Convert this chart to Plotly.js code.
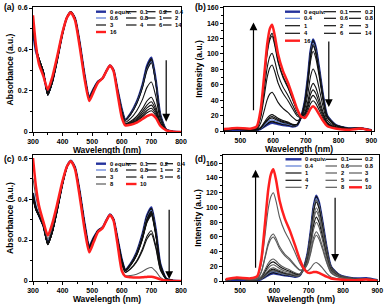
<!DOCTYPE html>
<html><head><meta charset="utf-8">
<script src="https://cdn.plot.ly/plotly-3.0.1.min.js"></script>
<style>html,body{margin:0;padding:0;background:#fff}#c{width:385px;height:304px}</style>
</head><body><div id="c"></div><script>
// ---------- data ----------
const wlAbs = [300,310,320,335,350,365,380,400,415,428,442,458,475,490,505,520,535,548,560,572,585,600,612,630,650,670,685,700,715,730,750,775,800];

const absA_0  = [0.48,0.39,0.345,0.285,0.185,0.245,0.34,0.48,0.555,0.58,0.55,0.43,0.27,0.17,0.21,0.245,0.26,0.295,0.322,0.30,0.21,0.11,0.06,0.09,0.145,0.23,0.32,0.36,0.25,0.085,0.012,0.002,0];
const absA_01 = [0.49,0.40,0.35,0.29,0.18,0.24,0.336,0.478,0.556,0.581,0.551,0.431,0.27,0.168,0.21,0.245,0.26,0.295,0.322,0.30,0.21,0.109,0.059,0.089,0.143,0.227,0.315,0.355,0.246,0.084,0.012,0.002,0];
const absA_02 = [0.49,0.40,0.352,0.29,0.179,0.24,0.335,0.477,0.556,0.581,0.551,0.431,0.27,0.167,0.21,0.245,0.26,0.295,0.322,0.30,0.21,0.108,0.059,0.088,0.141,0.223,0.310,0.349,0.243,0.083,0.012,0.002,0];
const absA_04 = [0.5,0.405,0.353,0.291,0.178,0.239,0.335,0.477,0.556,0.581,0.551,0.43,0.269,0.166,0.209,0.245,0.26,0.295,0.322,0.30,0.209,0.108,0.058,0.087,0.14,0.221,0.307,0.345,0.24,0.082,0.012,0.002,0];
const absA_06 = [0.5,0.405,0.354,0.292,0.178,0.239,0.334,0.476,0.556,0.581,0.55,0.43,0.269,0.166,0.209,0.245,0.26,0.295,0.322,0.30,0.209,0.107,0.058,0.086,0.138,0.218,0.302,0.34,0.237,0.081,0.012,0.002,0];
const absA_08 = [0.5,0.406,0.355,0.293,0.178,0.239,0.334,0.476,0.556,0.581,0.55,0.429,0.268,0.165,0.208,0.245,0.26,0.295,0.322,0.30,0.208,0.106,0.057,0.085,0.136,0.215,0.298,0.335,0.234,0.08,0.012,0.002,0];
const absA_1  = [0.51,0.408,0.356,0.293,0.179,0.24,0.335,0.477,0.556,0.58,0.549,0.428,0.267,0.164,0.207,0.244,0.26,0.295,0.322,0.299,0.206,0.093,0.048,0.066,0.102,0.158,0.216,0.242,0.172,0.061,0.01,0.0015,0];
const absA_2  = [0.51,0.41,0.356,0.292,0.18,0.241,0.336,0.477,0.556,0.58,0.548,0.426,0.265,0.162,0.206,0.244,0.26,0.295,0.322,0.299,0.204,0.082,0.04,0.052,0.075,0.113,0.15,0.168,0.123,0.047,0.009,0.001,0];
const absA_3  = [0.515,0.41,0.355,0.291,0.181,0.242,0.337,0.478,0.556,0.58,0.547,0.425,0.264,0.161,0.205,0.243,0.26,0.295,0.322,0.298,0.203,0.079,0.038,0.047,0.067,0.1,0.13,0.146,0.108,0.042,0.009,0.001,0];
const absA_4  = [0.515,0.41,0.354,0.29,0.182,0.243,0.338,0.478,0.556,0.58,0.547,0.424,0.263,0.16,0.204,0.243,0.26,0.295,0.322,0.298,0.202,0.077,0.037,0.044,0.061,0.09,0.117,0.13,0.098,0.039,0.009,0.001,0];
const absA_6  = [0.52,0.41,0.352,0.289,0.184,0.245,0.34,0.479,0.556,0.58,0.546,0.422,0.262,0.159,0.203,0.243,0.26,0.295,0.322,0.297,0.2,0.074,0.035,0.041,0.056,0.081,0.104,0.115,0.088,0.036,0.008,0.001,0];
const absA_14 = [0.53,0.412,0.345,0.283,0.19,0.252,0.346,0.481,0.556,0.579,0.544,0.418,0.258,0.155,0.2,0.242,0.26,0.295,0.322,0.297,0.197,0.073,0.034,0.039,0.052,0.074,0.093,0.103,0.08,0.034,0.008,0.001,0];
const absA_16 = [0.565,0.42,0.33,0.27,0.205,0.265,0.355,0.485,0.555,0.578,0.54,0.41,0.25,0.15,0.195,0.24,0.26,0.295,0.322,0.295,0.19,0.07,0.032,0.035,0.045,0.063,0.077,0.085,0.068,0.03,0.008,0.001,0];
const labelsA = ['0 equiv.','0.1','0.2','0.4','0.6','0.8','1','2','3','4','6','14','16'];

const absC_0  = [0.43,0.36,0.32,0.27,0.19,0.245,0.34,0.48,0.56,0.588,0.555,0.435,0.275,0.17,0.212,0.247,0.262,0.297,0.325,0.302,0.212,0.105,0.055,0.085,0.14,0.23,0.32,0.36,0.25,0.085,0.012,0.002,0];
const absC_01 = [0.42,0.355,0.32,0.27,0.182,0.24,0.336,0.478,0.558,0.586,0.554,0.434,0.273,0.167,0.21,0.246,0.261,0.296,0.324,0.301,0.211,0.104,0.055,0.084,0.138,0.227,0.316,0.355,0.246,0.084,0.012,0.002,0];
const absC_02 = [0.42,0.355,0.321,0.27,0.181,0.24,0.335,0.478,0.558,0.586,0.554,0.434,0.273,0.167,0.21,0.246,0.261,0.296,0.324,0.301,0.211,0.104,0.054,0.084,0.137,0.226,0.314,0.353,0.245,0.083,0.012,0.002,0];
const absC_04 = [0.415,0.352,0.32,0.27,0.18,0.239,0.335,0.477,0.558,0.586,0.553,0.433,0.272,0.166,0.21,0.246,0.261,0.296,0.324,0.301,0.21,0.103,0.054,0.083,0.136,0.224,0.311,0.35,0.243,0.083,0.012,0.002,0];
const absC_06 = [0.415,0.352,0.32,0.27,0.18,0.239,0.334,0.477,0.558,0.585,0.553,0.433,0.272,0.166,0.209,0.246,0.261,0.296,0.324,0.301,0.21,0.103,0.054,0.082,0.135,0.221,0.307,0.345,0.24,0.082,0.012,0.002,0];
const absC_08 = [0.41,0.35,0.319,0.269,0.179,0.238,0.334,0.476,0.557,0.585,0.553,0.432,0.271,0.165,0.209,0.246,0.261,0.296,0.324,0.3,0.209,0.102,0.053,0.081,0.133,0.217,0.302,0.34,0.236,0.08,0.011,0.002,0];
const absC_1  = [0.41,0.35,0.319,0.269,0.178,0.238,0.333,0.476,0.557,0.585,0.552,0.432,0.271,0.165,0.209,0.245,0.261,0.296,0.324,0.3,0.209,0.101,0.053,0.08,0.131,0.214,0.298,0.335,0.233,0.079,0.011,0.002,0];
const absC_2  = [0.405,0.348,0.318,0.268,0.178,0.237,0.333,0.475,0.557,0.585,0.552,0.431,0.27,0.164,0.208,0.245,0.26,0.296,0.324,0.3,0.208,0.1,0.052,0.079,0.129,0.211,0.294,0.33,0.229,0.078,0.011,0.002,0];
const absC_3  = [0.405,0.348,0.318,0.268,0.177,0.237,0.332,0.475,0.557,0.584,0.552,0.431,0.27,0.164,0.208,0.245,0.26,0.296,0.324,0.3,0.208,0.099,0.052,0.078,0.127,0.208,0.289,0.325,0.226,0.077,0.011,0.002,0];
const absC_4  = [0.4,0.345,0.317,0.267,0.177,0.236,0.332,0.474,0.557,0.584,0.551,0.43,0.269,0.163,0.207,0.245,0.26,0.296,0.324,0.299,0.207,0.099,0.051,0.077,0.125,0.205,0.285,0.32,0.222,0.076,0.011,0.002,0];
const absC_5  = [0.42,0.355,0.322,0.271,0.185,0.243,0.338,0.478,0.557,0.584,0.55,0.428,0.266,0.16,0.205,0.244,0.26,0.296,0.324,0.299,0.204,0.086,0.044,0.062,0.098,0.158,0.218,0.245,0.171,0.059,0.009,0.001,0];
const absC_6  = [0.43,0.36,0.325,0.273,0.188,0.246,0.34,0.48,0.557,0.584,0.55,0.427,0.265,0.158,0.204,0.244,0.26,0.296,0.324,0.299,0.203,0.084,0.042,0.059,0.093,0.149,0.205,0.23,0.16,0.055,0.008,0.001,0];
const absC_8  = [0.5,0.41,0.345,0.28,0.205,0.262,0.352,0.486,0.558,0.585,0.547,0.418,0.253,0.145,0.193,0.241,0.259,0.295,0.323,0.296,0.19,0.057,0.026,0.027,0.033,0.046,0.06,0.066,0.047,0.018,0.003,0,0];
const absC_10 = [0.6,0.46,0.37,0.29,0.222,0.28,0.365,0.49,0.56,0.585,0.545,0.41,0.245,0.14,0.19,0.24,0.258,0.295,0.322,0.295,0.185,0.05,0.022,0.018,0.017,0.018,0.02,0.021,0.016,0.008,0.002,0,0];
const labelsC = ['0 equiv.','0.1','0.2','0.4','0.6','0.8','1','2','3','4','5','6','8','10'];

const wlEmB = [450,490,530,550,562,572,582,590,597,605,615,630,645,660,673,685,697,707,714,722,730,740,752,765,790,830,868,900];
const emB_0  = [0.5,1,0.5,1,2.6,5.3,8,9.9,10.5,9.8,9,7.7,7,5.7,7.3,18,39.3,73.8,103.6,119,109.5,83.3,47.6,20.2,8.3,3.6,3.4,1.2];
const emB_01 = [1,2.2,1,1.3,2.9,6,9.1,11.3,12,11.1,10.1,8.5,7.6,6.1,7.6,18,39.1,73.3,102.8,118,108.6,82.7,47.3,20.1,8.3,3.6,3.9,1.2];
const emB_02 = [1.1,2.2,1,1.3,3,6.4,9.8,12.1,12.8,11.9,10.6,9,8,6.3,7.7,17.8,38.5,72.1,101,116,106.8,81.3,46.5,19.8,8.2,3.5,3.8,1.2];
const emB_04 = [1.1,2.2,1,1.3,3.4,7.3,11.4,13.8,14.6,13.5,12,9.9,8.8,6.9,8,17.7,37.9,70.9,99.4,114.2,105,79.9,45.7,19.5,8,3.4,3.8,1.1];
const emB_06 = [1.2,2.2,1,1.4,3.8,8.5,13.3,16.1,17,15.6,13.6,11.2,9.8,7.6,8.3,17.7,37.4,69.8,97.8,112.3,103.3,78.6,45,19.2,7.9,3.4,3.7,1.1];
const emB_08 = [1.2,2.3,1.1,1.5,4.2,9.4,14.8,17.9,18.8,17.3,14.9,12.2,10.6,8.2,8.6,17.6,36.9,68.7,96.1,110.4,101.5,77.3,44.2,18.9,7.8,3.3,3.7,1.1];
const emB_1  = [1.3,2.3,1.1,1.5,4.7,10.6,16.9,20.2,21.2,19.4,16.6,13.5,11.6,8.8,8.8,16.9,34.8,64.5,90.1,103.5,95.2,72.4,41.5,17.7,7.3,3.1,3.6,1];
const emB_2  = [1.8,2.7,1.5,2.6,10.4,25.2,40.8,48.1,50.3,45.5,37.2,29.3,24.1,17.7,13.5,16.7,28.7,51,70.5,80.5,74,56.4,32.5,14.1,5.9,2.6,3.3,0.8];
const emB_3  = [2.1,3.2,2.1,3.8,17.4,42.9,69.9,82.2,85.7,77.3,62.4,48.9,39.7,28.6,19.7,17.8,24.4,40.2,54.5,61.8,56.7,43.3,25.2,11.2,4.9,2.2,3.1,0.6];
const emB_4  = [2.2,3.4,2.3,4.4,20.4,50.5,82.5,96.9,101,91,73.3,57.3,46.4,33.3,22.4,18.2,22.3,35.4,47.4,53.4,48.9,37.4,21.9,10,4.5,2,3,0.5];
const emB_6  = [2.4,3.8,2.7,5.2,24.8,61.7,100.9,118.4,123.4,111.2,89.3,69.7,56.3,40.3,26.5,19.5,21.1,31.4,41.3,46.2,42.2,32.4,19.2,8.9,4.1,1.9,2.9,0.4];
const emB_14 = [2.4,3.9,2.8,5.4,25.5,63.4,103.8,121.6,126.8,114.2,91.8,71.5,57.7,41.3,26.9,18.9,19,27.3,35.5,39.3,35.9,27.6,16.5,7.9,3.7,1.7,2.8,0.35];
const emB_16 = [2.5,4,3,6,28,69,113,133,138,124,100,78,63,45,29,19,17,23,29,32,29,22,13.5,6.6,3.3,1.5,3.2,0.3];
const labelsB = ['0 equiv.','0.1','0.2','0.4','0.6','0.8','1','2','3','4','6','14','16'];

const wlEmD = [458,490,530,550,562,572,582,590,597,605,615,630,645,660,673,685,697,707,714,722,730,740,752,765,790,830,868,900];
const emD_0  = [0.8,1.5,0.6,0.8,2.5,5.1,7.8,9.7,10.3,9.6,8.8,7.6,6.9,5.5,7.2,17.5,38.4,71.9,100.9,116,106.7,81.2,46.4,19.7,8.1,3.5,4,1.2];
const emD_01 = [1.6,2.6,1.4,1.7,2.7,5.6,8.5,10.5,11.2,10.4,9.5,8,7.2,5.8,7.3,17.5,38.1,71.4,100.1,115.1,105.9,80.6,46,19.6,8.1,3.5,3.3,1.2];
const emD_02 = [1.6,2.6,1.4,1.7,2.9,6.1,9.3,11.5,12.1,11.3,10.2,8.5,7.7,6.1,7.4,17.4,37.8,70.8,99.3,114.1,105,79.9,45.7,19.4,8,3.4,3.3,1.1];
const emD_04 = [1.6,2.6,1.4,1.8,3,6.5,10,12.2,13,12,10.7,8.9,8,6.3,7.5,17.2,37.2,69.6,97.6,112.1,103.1,78.5,44.9,19.1,7.9,3.4,3.2,1.1];
const emD_06 = [1.6,2.6,1.4,1.8,3.2,6.9,10.7,13.1,13.8,12.8,11.3,9.4,8.4,6.6,7.6,17.1,36.6,68.4,95.9,110.2,101.4,77.1,44.1,18.8,7.8,3.3,3.2,1.1];
const emD_08 = [1.6,2.6,1.4,1.8,3.4,7.4,11.4,14,14.7,13.6,11.9,9.9,8.7,6.8,7.7,17.1,36.4,67.9,95,109.2,100.5,76.5,43.7,18.6,7.7,3.3,3.2,1.1];
const emD_1  = [1.6,2.7,1.4,1.9,3.6,8.1,12.6,15.2,16.1,14.8,12.9,10.6,9.3,7.2,7.9,16.9,35.8,66.6,93.4,107.3,98.6,75.1,43,18.3,7.6,3.2,3.1,1.1];
const emD_2  = [1.6,2.7,1.5,2,4,9,14.1,17,17.9,16.4,14.1,11.5,9.9,7.7,7.9,16,33.3,61.9,86.5,99.4,91.4,69.6,39.8,17,7,3,3,1];
const emD_3  = [1.6,2.7,1.5,2,4.8,11.1,17.5,21,22,20.2,17,13.7,11.7,8.8,8.5,15.7,31.9,59,82.4,94.5,86.9,66.2,37.9,16.2,6.7,2.9,2.9,0.9];
const emD_4  = [1.6,2.8,1.6,2.2,5.5,12.9,20.8,24.7,25.9,23.6,19.7,15.8,13.3,10,9,15,29.5,54.2,75.6,86.7,79.7,60.7,34.8,14.9,6.2,2.7,2.8,0.9];
const emD_5  = [1.6,2.8,1.6,2.2,6.3,15,24,28.5,29.8,27.1,22.4,17.9,14.9,11.1,9.4,14.5,27.5,50.1,69.6,79.8,73.4,55.9,32.1,13.8,5.7,2.5,2.7,0.8];
const emD_6  = [1.8,3.3,2.1,3.4,12.2,29.9,48.6,57.2,59.7,54,43.8,34.4,28.1,20.3,14.8,15.8,24.8,42.8,58.8,66.9,61.4,46.9,27.1,11.9,5.1,2.3,2.6,0.7];
const emD_7  = [1.9,3.3,2.2,3.5,13,31.9,52,61.1,63.8,57.6,46.7,36.6,29.9,21.6,15.4,15.5,23.3,39.9,54.6,62.1,57,43.5,25.2,11.1,4.8,2.1,2.5,0.6];
const emD_8  = [2.3,4.1,3.1,5.4,24,59.8,98.1,114.9,119.7,107.8,86.5,67.4,54.3,38.7,24.9,16.2,14,18.3,23,25.1,22.8,17.7,10.8,5.4,2.7,1.2,2,0.2];
const emD_10 = [2.5,4.6,3.6,6.6,30.3,75.8,124.2,145.5,151.6,136.4,109.2,85,68.4,48.6,30.6,17.6,11.4,11.1,12.1,12.3,10.9,8.7,5.8,3.5,2,1,1.9,0];
const labelsD = ['0 equiv.','0.1','0.2','0.4','0.6','0.8','1','2','3','4','5','6','7','8','10'];

// ---------- styling ----------
const FONT = 'Liberation Sans, Arial, sans-serif';
const BLUE = '#24329c', LBLUE = '#5b7bd4', BLK = '#111111', GRY = '#5a5a5a', RED = '#ff1f1f';
const W = 385, H = 304;
const px = v => v / W, py = v => 1 - v / H;

const panels = [
  {ax:'', x:wlAbs, ys:[absA_0,absA_01,absA_02,absA_04,absA_06,absA_08,absA_1,absA_2,absA_3,absA_4,absA_6,absA_14,absA_16], labels:labelsA,
   colors:[BLUE,BLK,BLK,BLK,LBLUE,BLK,BLK,BLK,BLK,BLK,BLK,BLK,RED],
   legCols:[[96,106,107.5],[126,136.5,138],[147,155.5,157],[163,171.5,173]], legRows:[11.7,18,25,32]},
  {ax:'2', x:wlEmB, ys:[emB_0,emB_01,emB_02,emB_04,emB_06,emB_08,emB_1,emB_2,emB_3,emB_4,emB_6,emB_14,emB_16], labels:labelsB,
   colors:[BLUE,BLK,BLK,LBLUE,BLK,BLK,BLK,BLK,BLK,BLK,BLK,BLK,RED],
   legCols:[[285,300,302],[324,336,338],[349,361,362.5]], legRows:[11.7,18.3,25.7,33.3,40.7]},
  {ax:'3', x:wlAbs, ys:[absC_0,absC_01,absC_02,absC_04,absC_06,absC_08,absC_1,absC_2,absC_3,absC_4,absC_5,absC_6,absC_8,absC_10], labels:labelsC,
   colors:[BLUE,BLK,BLK,BLK,LBLUE,BLK,BLK,BLK,BLK,BLK,BLK,BLK,GRY,RED],
   legCols:[[96,106,107.5],[126,136.5,138],[147,156.5,158],[165,173,174.7]], legRows:[163.7,170,177,184]},
  {ax:'4', x:wlEmD, ys:[emD_0,emD_01,emD_02,emD_04,emD_06,emD_08,emD_1,emD_2,emD_3,emD_4,emD_5,emD_6,emD_7,emD_8,emD_10], labels:labelsD,
   colors:[BLUE,BLK,BLK,LBLUE,GRY,GRY,BLK,GRY,GRY,BLK,GRY,GRY,GRY,GRY,RED],
   legCols:[[285.5,301.5,303],[325.5,337,338.5],[349,362,363]], legRows:[159.3,166,173,180.3,187.3]}
];

const traces = [];
const shapes = [];
const annotations = [];
panels.forEach(p => {
  const n = p.ys.length;
  const order = [0];
  for (let i = 1; i < n - 1; i++) order.push(i);
  order.push(n - 1);
  order.forEach(i => {
    const w = (i === n - 1) ? 2.5 : (i === 0 ? 2.2 : 1.1);
    traces.push({type:'scatter', mode:'lines', x:p.x, y:p.ys[i], xaxis:'x'+p.ax, yaxis:'y'+p.ax,
      line:{color:p.colors[i], width:w, shape:'spline', smoothing:0.6},
      showlegend:false, hoverinfo:'skip'});
  });
  const nc = p.legCols.length;
  p.labels.forEach((lab, i) => {
    const c = p.legCols[i % nc], r = p.legRows[Math.floor(i / nc)];
    const thick = (i === 0 || i === n - 1);
    shapes.push({type:'line', xref:'paper', yref:'paper', x0:px(c[0]), x1:px(c[1]), y0:py(r), y1:py(r),
      line:{color:p.colors[i], width: thick ? 2.4 : 1.2}});
    annotations.push({xref:'paper', yref:'paper', x:px(c[2]), y:py(r), xanchor:'left', yanchor:'middle',
      text:lab, showarrow:false, font:{family:FONT, size:5.8, weight:'bold', color:'#000'}});
  });
});

// panel labels
[['(a)',1.5,6.5],['(b)',193,6.5],['(c)',1.5,158.5],['(d)',193,158.5]].forEach(l => {
  annotations.push({xref:'paper', yref:'paper', x:px(l[1]), y:py(l[2]), xanchor:'left', yanchor:'middle',
    text:l[0], showarrow:false, font:{family:FONT, size:8.5, weight:'bold', color:'#000'}});
});

// arrows
function arrow(ax, x, y0, y1) {
  annotations.push({xref:'x'+ax, yref:'y'+ax, axref:'x'+ax, ayref:'y'+ax, x:x, y:y1, ax:x, ay:y0,
    text:'', showarrow:true, arrowhead:2, arrowsize:1.3, arrowwidth:1.2, arrowcolor:'#000', standoff:0, startstandoff:0});
}
arrow('', 750, 0.355, 0.05);
arrow('2', 540, 25, 141);
arrow('2', 770, 118, 31);
arrow('3', 760, 0.355, 0.01);
arrow('4', 545, 16, 151);
arrow('4', 777, 115, 26);

function xAxis(dom, rng, anchor) {
  return {domain:dom, range:rng, anchor:anchor, dtick:100, tick0:0, ticks:'outside', ticklen:3, tickwidth:1, tickcolor:'#000',
    showline:true, linecolor:'#000', linewidth:1, mirror:true, showgrid:false, zeroline:false, automargin:false,
    minor:{dtick:50, ticks:'outside', ticklen:2, tickwidth:1, tickcolor:'#000'},
    tickfont:{family:FONT, size:7, weight:'bold', color:'#000'},
    title:{text:'Wavelength (nm)', font:{family:FONT, size:8.5, weight:'bold', color:'#000'}, standoff:1}};
}
function yAxis(dom, rng, anchor, dt, title) {
  return {domain:dom, range:rng, anchor:anchor, dtick:dt, tick0:0, ticks:'outside', ticklen:3, tickwidth:1, tickcolor:'#000',
    showline:true, linecolor:'#000', linewidth:1, mirror:true, showgrid:false, zeroline:false, automargin:false,
    minor:{dtick:dt/2, ticks:'outside', ticklen:2, tickwidth:1, tickcolor:'#000'},
    tickfont:{family:FONT, size:7, weight:'bold', color:'#000'},
    title:{text:title, font:{family:FONT, size:8.5, weight:'bold', color:'#000'}, standoff:2}};
}

const layout = {
  width:W, height:H, margin:{l:0, r:0, t:0, b:0}, paper_bgcolor:'#fff', plot_bgcolor:'#fff', showlegend:false,
  xaxis:  xAxis([px(33), px(181)], [300, 800], 'y'),
  yaxis:  yAxis([py(132), py(7)], [0, 0.605], 'x', 0.2, 'Absorbance (a.u.)'),
  xaxis2: xAxis([px(224), px(374)], [450, 908], 'y2'),
  yaxis2: yAxis([py(131), py(7)], [0, 161], 'x2', 20, 'Intensity (a.u.)'),
  xaxis3: xAxis([px(33), px(181)], [300, 800], 'y3'),
  yaxis3: yAxis([py(281), py(155)], [0, 0.615], 'x3', 0.2, 'Absorbance (a.u.)'),
  xaxis4: xAxis([px(223), px(379)], [450, 905], 'y4'),
  yaxis4: yAxis([py(281), py(155)], [0, 171], 'x4', 20, 'Intensity (a.u.)'),
  shapes: shapes, annotations: annotations
};

Plotly.newPlot('c', traces, layout, {displayModeBar:false, staticPlot:true});
</script></body></html>
